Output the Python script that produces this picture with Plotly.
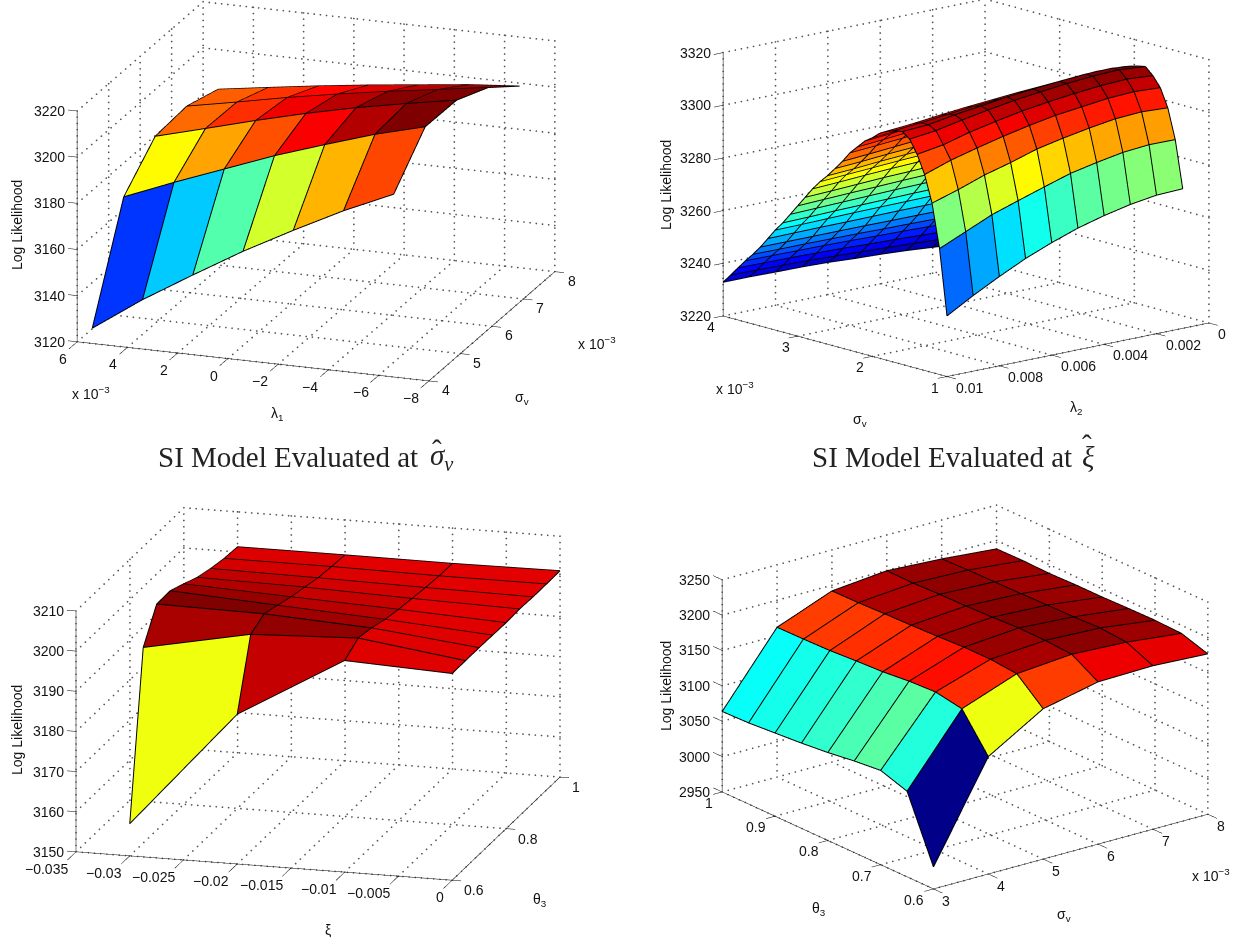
import numpy as np
import plotly.graph_objects as go

# ---------- data ----------
# Panel 1: rows = sigma_v (x 10^-3), columns = lambda_1 (x 10^-3)
p1_sigma = [4, 5, 6, 7, 8]
p1_lambda = [5.4, 3.4, 1.4, -0.6, -2.6, -4.6, -6.6]
p1_z = [
    [3126.6, 3141.4, 3154.5, 3167.2, 3178.7, 3189.6, 3199.2],
    [3171.7, 3180.4, 3188.6, 3196.8, 3204.0, 3210.9, 3216.6],
    [3186.1, 3191.9, 3197.8, 3203.3, 3208.2, 3212.4, 3216.3],
    [3187.3, 3191.5, 3195.9, 3199.8, 3203.4, 3206.6, 3209.9],
    [3182.8, 3186.0, 3189.1, 3191.9, 3194.4, 3196.9, 3198.7],
]
# Panel 2: rows = sigma_v (x 10^-3), columns = lambda_2
p2_sigma = [1.0, 1.1, 1.2, 1.3, 1.4, 1.5, 1.6, 1.7, 1.8, 1.9, 2.0, 2.1, 2.2, 2.3, 2.4, 2.5,
            2.6, 2.7, 2.8, 2.9, 3.0, 3.1, 3.2, 3.3, 3.4, 3.5, 3.6, 3.7, 3.8, 3.9, 4.0]
p2_lambda = [0.01, 0.009, 0.008, 0.007, 0.006, 0.005, 0.004, 0.003, 0.002, 0.001]
p2_z = [
    [3243.0, 3248.7, 3253.9, 3258.7, 3262.7, 3266.2, 3268.9, 3271.1, 3272.6, 3273.0],
    [3267.8, 3272.2, 3276.6, 3279.9, 3283.1, 3286.2, 3288.3, 3290.1, 3291.0, 3290.9],
    [3284.3, 3287.4, 3290.9, 3293.6, 3296.7, 3298.8, 3300.6, 3302.1, 3302.7, 3302.2],
    [3294.4, 3297.8, 3300.4, 3302.8, 3304.9, 3306.7, 3307.9, 3309.1, 3309.6, 3309.1],
    [3301.3, 3302.9, 3305.6, 3307.7, 3309.6, 3311.0, 3312.2, 3313.1, 3313.6, 3312.9],
    [3306.3, 3307.5, 3309.5, 3311.3, 3312.9, 3314.1, 3315.2, 3316.0, 3316.4, 3315.6],
    [3308.4, 3309.0, 3310.7, 3312.0, 3313.4, 3314.4, 3315.3, 3316.0, 3316.2, 3315.0],
    [3308.0, 3308.9, 3310.0, 3311.0, 3311.8, 3312.6, 3313.2, 3313.8, 3314.5, 3314.2],
    [3307.0, 3307.9, 3309.0, 3310.0, 3310.8, 3311.6, 3312.2, 3312.9, 3313.5, 3313.2],
    [3305.5, 3306.3, 3307.3, 3308.2, 3309.0, 3309.7, 3310.3, 3310.9, 3311.5, 3311.2],
    [3303.0, 3303.8, 3304.8, 3305.7, 3306.5, 3307.2, 3307.8, 3308.4, 3309.0, 3308.7],
    [3301.0, 3301.8, 3302.7, 3303.5, 3304.2, 3304.9, 3305.4, 3306.0, 3306.5, 3306.2],
    [3298.0, 3298.8, 3299.7, 3300.5, 3301.2, 3301.9, 3302.4, 3303.0, 3303.5, 3303.2],
    [3295.0, 3295.7, 3296.5, 3297.3, 3297.9, 3298.5, 3299.0, 3299.5, 3300.0, 3299.8],
    [3291.0, 3291.7, 3292.5, 3293.3, 3293.9, 3294.5, 3295.0, 3295.5, 3296.0, 3295.8],
    [3287.5, 3288.1, 3288.9, 3289.5, 3290.1, 3290.7, 3291.1, 3291.6, 3292.0, 3291.8],
    [3284.0, 3284.6, 3285.4, 3286.0, 3286.6, 3287.2, 3287.6, 3288.1, 3288.5, 3288.3],
    [3281.0, 3281.6, 3282.2, 3282.8, 3283.3, 3283.8, 3284.2, 3284.6, 3285.0, 3284.8],
    [3277.5, 3278.0, 3278.6, 3279.1, 3279.5, 3280.0, 3280.3, 3280.7, 3281.0, 3280.8],
    [3273.5, 3273.9, 3274.4, 3274.9, 3275.2, 3275.6, 3275.9, 3276.2, 3276.5, 3276.3],
    [3269.5, 3269.9, 3270.3, 3270.6, 3271.0, 3271.3, 3271.5, 3271.8, 3272.0, 3271.8],
    [3265.5, 3265.8, 3266.1, 3266.4, 3266.7, 3266.9, 3267.1, 3267.3, 3267.5, 3267.3],
    [3261.5, 3261.7, 3262.0, 3262.2, 3262.4, 3262.6, 3262.7, 3262.9, 3263.0, 3262.8],
    [3258.0, 3258.1, 3258.3, 3258.5, 3258.6, 3258.7, 3258.8, 3258.9, 3259.0, 3258.8],
    [3254.0, 3254.1, 3254.2, 3254.2, 3254.3, 3254.4, 3254.4, 3254.5, 3254.5, 3254.3],
    [3250.0, 3250.0, 3250.0, 3250.0, 3250.0, 3249.9, 3249.9, 3249.8, 3249.7, 3249.4],
    [3246.5, 3246.4, 3246.4, 3246.3, 3246.2, 3246.0, 3245.9, 3245.7, 3245.5, 3245.1],
    [3243.3, 3243.2, 3243.1, 3243.0, 3242.8, 3242.5, 3242.3, 3242.0, 3241.6, 3241.1],
    [3239.8, 3239.7, 3239.6, 3239.4, 3239.1, 3238.7, 3238.4, 3238.0, 3237.5, 3236.9],
    [3236.3, 3236.2, 3236.0, 3235.8, 3235.4, 3235.0, 3234.6, 3234.1, 3233.6, 3232.9],
    [3232.8, 3232.8, 3232.6, 3232.5, 3232.2, 3231.6, 3231.2, 3230.6, 3229.8, 3229.0],
]
# Panel 3: rows = xi, columns = theta_3
p3_xi = [-0.03, -0.02, -0.01, 0.0]
p3_theta = [0.6, 0.65, 0.7, 0.75, 0.8, 0.85, 0.9, 0.95, 1.0]
p3_z = [
    [3158.0, 3198.7, 3206.3, 3206.4, 3204.9, 3203.3, 3202.3, 3201.6, 3201.3],
    [3187.3, 3204.0, 3205.9, 3204.8, 3203.7, 3202.9, 3202.0, 3201.6, 3201.3],
    [3202.7, 3205.1, 3204.4, 3203.3, 3202.6, 3202.1, 3201.6, 3201.3, 3201.2],
    [3201.5, 3201.5, 3201.5, 3201.4, 3201.3, 3201.5, 3201.3, 3201.3, 3201.4],
]
# Panel 4: rows = sigma_v (x 10^-3), columns = theta_3
p4_sigma = [3, 4, 5, 6, 7, 8]
p4_theta = [1.0, 0.95, 0.9, 0.85, 0.8, 0.75, 0.7, 0.65, 0.6]
p4_z = [
    [3063.8, 3064.8, 3067.6, 3070.5, 3074.3, 3079.5, 3083.3, 3071.0, 2981.0],
    [3161.7, 3162.2, 3163.1, 3165.5, 3167.4, 3171.2, 3173.1, 3166.5, 3116.0],
    [3192.0, 3192.5, 3193.9, 3194.9, 3196.3, 3198.2, 3198.2, 3194.9, 3162.5],
    [3199.4, 3199.0, 3200.4, 3200.9, 3202.3, 3204.2, 3203.7, 3201.3, 3179.4],
    [3195.0, 3196.4, 3196.9, 3197.3, 3198.3, 3198.8, 3200.2, 3197.3, 3181.1],
    [3188.1, 3188.6, 3187.6, 3188.6, 3188.6, 3189.5, 3190.0, 3188.6, 3176.7],
]

# ---------- helpers ----------
W, H = 1234, 944
UNIT_PX = 208.0        # screen pixels per scene unit in a 420 px tall scene
EYE_DIST = 4.0
EDGE_LIFT = 0.006      # scene units towards the eye, keeps edges above the facets
DOM_H = 420
DOM_HALF_W = 268
PAD = 0.1
DOT_STEP = 6.0
JET_P = [0, .125, .375, .625, .875, 1]
JET_R = [0, 0, 0, 1, 1, .5]
JET_G = [0, 0, 1, 1, 0, 0]
JET_B = [.5, 1, 1, 0, 0, 0]


def jet(v):
    v = min(max(v, 0), 1)
    r, g, b = (np.interp(v, JET_P, c) for c in (JET_R, JET_G, JET_B))
    return f"rgb({int(r*255)},{int(g*255)},{int(b*255)})"


def segs(items):
    xs, ys, zs = [], [], []
    for a, b in items:
        xs += [a[0], b[0], None]
        ys += [a[1], b[1], None]
        zs += [a[2], b[2], None]
    return xs, ys, zs


def line_trace(scene, items, color, width):
    xs, ys, zs = segs(items)
    return go.Scatter3d(x=xs, y=ys, z=zs, mode="lines", line=dict(color=color, width=width), scene=scene,
                        hoverinfo="skip", showlegend=False)


def panel(fig, p):
    sc = p["scene"]
    X, Y, Z = p["gx"], p["gy"], p["gz"]
    (x0, x1), (y0, y1), (z0, z1) = p["xr"], p["yr"], p["zr"]
    dxr, dyr, dzr = x1 - x0, y1 - y0, z1 - z0
    nr, nc = len(Z), len(Z[0])
    phi, el = np.radians(p["phi"]), np.radians(p["el"])
    d = np.array([np.cos(el)*np.cos(phi), np.cos(el)*np.sin(phi), np.sin(el)])
    Rv = np.array([-np.sin(phi), np.cos(phi), 0.0])
    Uv = np.array([-np.sin(el)*np.cos(phi), -np.sin(el)*np.sin(phi), np.cos(el)])
    aspect = np.array(p["aspect"]) * p["s"] / UNIT_PX

    def screen_len(a, b):
        v = np.array([(b[0]-a[0])/dxr, (b[1]-a[1])/dyr, (b[2]-a[2])/dzr]) * aspect * UNIT_PX
        return float(np.hypot(v @ Rv, v @ Uv))

    # dotted grid on the floor and on the two back walls
    bx, by = p["back"]
    grid = []
    for t in p["xt"]:
        grid.append(((t, y0, z0), (t, y1, z0)))
        grid.append(((t, by, z0), (t, by, z1)))
    for t in p["yt"]:
        grid.append(((x0, t, z0), (x1, t, z0)))
        grid.append(((bx, t, z0), (bx, t, z1)))
    for t in p["zt"]:
        grid.append(((x0, by, t), (x1, by, t)))
        grid.append(((bx, y0, t), (bx, y1, t)))
    gxs, gys, gzs = [], [], []
    for a, b in grid:
        n = max(2, int(screen_len(a, b) / DOT_STEP))
        gxs += list(np.linspace(a[0], b[0], n))
        gys += list(np.linspace(a[1], b[1], n))
        gzs += list(np.linspace(a[2], b[2], n))
    fig.add_trace(go.Scatter3d(x=gxs, y=gys, z=gzs, mode="markers", scene=sc, hoverinfo="skip", showlegend=False,
                               marker=dict(size=1, color="#555555", line=dict(width=0))))
    # surface
    xs, ys, zs = [], [], []
    for r in range(nr):
        for c in range(nc):
            xs.append(X[r])
            ys.append(Y[c])
            zs.append(Z[r][c])
    I, J, Kk, cols = [], [], [], []
    dr, dc = p["corner"]
    lo, hi = p["clim"]
    for r in range(nr - 1):
        for c in range(nc - 1):
            a, b, e, f = r*nc+c, (r+1)*nc+c, (r+1)*nc+c+1, r*nc+c+1
            col = jet((Z[r+dr][c+dc] - lo) / (hi - lo))
            I += [a, a]; J += [b, e]; Kk += [e, f]; cols += [col, col]
    fig.add_trace(go.Mesh3d(x=xs, y=ys, z=zs, i=I, j=J, k=Kk, facecolor=cols, scene=sc,
                            flatshading=True, hoverinfo="skip", showscale=False,
                            lighting=dict(ambient=1, diffuse=0, specular=0, fresnel=0, roughness=1)))
    # surface edges, lifted a hair towards the eye
    edges = []
    lift = d * EDGE_LIFT / aspect * np.array([dxr, dyr, dzr])
    pt = lambda r, c: (xs[r*nc+c] + lift[0], ys[r*nc+c] + lift[1], zs[r*nc+c] + lift[2])
    for r in range(nr):
        for c in range(nc - 1):
            edges.append((pt(r, c), pt(r, c+1)))
    for c in range(nc):
        for r in range(nr - 1):
            edges.append((pt(r, c), pt(r+1, c)))
    fig.add_trace(line_trace(sc, edges, "black", 2))
    # axes
    ax_y, ax_x = p["axis_at"]          # y of x-axis line, x of y-axis line
    zx, zy = p["zcorner"]
    xdir, ydir, ztd = p["tickdir"]     # signed tick length, fraction of range
    axes = [((x0, ax_y, z0), (x1, ax_y, z0)), ((ax_x, y0, z0), (ax_x, y1, z0)),
            ((zx, zy, z0), (zx, zy, z1))]
    for t in p["xt"]:
        axes.append(((t, ax_y, z0), (t, ax_y + xdir*dyr, z0)))
    for t in p["yt"]:
        axes.append(((ax_x, t, z0), (ax_x + ydir*dxr, t, z0)))
    for t in p["zt"]:
        if p["ztick_axis"] == "y":
            axes.append(((zx, zy, t), (zx, zy + ztd*dyr, t)))
        else:
            axes.append(((zx, zy, t), (zx + ztd*dxr, zy, t)))
    fig.add_trace(line_trace(sc, axes, "black", 1))
    # tick labels
    font = dict(family="Liberation Sans", size=14, color="#111")
    ann = []
    xa, xsft, ysft = p["xlab"]
    for t, s in zip(p["xt"], p["xtt"]):
        ann.append(dict(x=t, y=ax_y, z=z0, text=s, showarrow=False, xanchor=xa, xshift=xsft, yshift=ysft, font=font))
    xa, xsft, ysft = p["ylab"]
    for t, s in zip(p["yt"], p["ytt"]):
        ann.append(dict(x=ax_x, y=t, z=z0, text=s, showarrow=False, xanchor=xa, xshift=xsft, yshift=ysft, font=font))
    for t in p["zt"]:
        ann.append(dict(x=zx, y=zy, z=t, text=str(t), showarrow=False, xanchor="right", xshift=-10, yshift=0, font=font))
    # camera
    cz = -p["shift"] / (UNIT_PX * np.cos(el))
    c = np.array([0, 0, cz])
    eye = c + d * EYE_DIST
    cx, cy = p["center"]
    pad = PAD
    top = cy - DOM_H/2 + p["shift"]
    layout = dict(
        domain=dict(x=[(cx-DOM_HALF_W)/W, (cx+DOM_HALF_W)/W], y=[1-(top+DOM_H)/H, 1-top/H]),
        aspectmode="manual",
        aspectratio=dict(x=aspect[0]*(1+2*pad), y=aspect[1]*(1+2*pad), z=aspect[2]*(1+2*pad)),
        camera=dict(projection=dict(type="orthographic"), up=dict(x=0, y=0, z=1),
                    center=dict(x=0, y=0, z=float(cz)),
                    eye=dict(x=float(eye[0]), y=float(eye[1]), z=float(eye[2]))),
        annotations=ann,
        bgcolor="white",
        xaxis=dict(visible=False, range=[x0-pad*dxr, x1+pad*dxr]),
        yaxis=dict(visible=False, range=[y0-pad*dyr, y1+pad*dyr]),
        zaxis=dict(visible=False, range=[z0-pad*dzr, z1+pad*dzr]),
    )
    fig.update_layout(**{sc: layout})


MINUS = "\u2212"
panels = [
    dict(scene="scene", gx=p1_sigma, gy=p1_lambda, gz=p1_z,
         xr=(4, 8), yr=(-8, 6), zr=(3120, 3220),
         xt=[4, 5, 6, 7, 8], xtt=["4", "5", "6", "7", "8"],
         yt=[-8, -6, -4, -2, 0, 2, 4, 6], ytt=[MINUS+"8", MINUS+"6", MINUS+"4", MINUS+"2", "0", "2", "4", "6"],
         zt=[3120, 3140, 3160, 3180, 3200, 3220],
         back=(8, 6), axis_at=(-8, 4), zcorner=(4, 6), ztick_axis="y",
         tickdir=(-0.026, -0.065, 0.026), corner=(0, 0), clim=(3109, 3209),
         xlab=("left", 11, -9), ylab=("right", -8, -17),
         phi=199.7, el=18.1, s=370, aspect=(1, 1.0, 0.65), center=(316, 191.5), shift=18.5),
    dict(scene="scene2", gx=p2_sigma, gy=p2_lambda, gz=p2_z,
         xr=(1, 4), yr=(0, 0.01), zr=(3220, 3320),
         xt=[1, 2, 3, 4], xtt=["1", "2", "3", "4"],
         yt=[0, 0.002, 0.004, 0.006, 0.008, 0.01], ytt=["0", "0.002", "0.004", "0.006", "0.008", "0.01"],
         zt=[3220, 3240, 3260, 3280, 3300, 3320],
         back=(4, 0), axis_at=(0.01, 1), zcorner=(4, 0.01), ztick_axis="y",
         tickdir=(0.035, -0.04, 0.035), corner=(0, 1), clim=(3229, 3315),
         xlab=("right", -6, -11), ylab=("left", 7, -11),
         phi=139, el=13.6, s=338, aspect=(1, 1.017, 0.794), center=(966, 188), shift=22),
    dict(scene="scene3", gx=p3_xi, gy=p3_theta, gz=p3_z,
         xr=(-0.035, 0), yr=(0.6, 1), zr=(3150, 3210),
         xt=[-0.035, -0.03, -0.025, -0.02, -0.015, -0.01, -0.005, 0],
         xtt=[MINUS+"0.035", MINUS+"0.03", MINUS+"0.025", MINUS+"0.02", MINUS+"0.015", MINUS+"0.01", MINUS+"0.005", "0"],
         yt=[0.6, 0.8, 1], ytt=["0.6", "0.8", "1"],
         zt=[3150, 3160, 3170, 3180, 3190, 3200, 3210],
         back=(-0.035, 1), axis_at=(0.6, 0), zcorner=(-0.035, 0.6), ztick_axis="x",
         tickdir=(-0.08, 0.024, -0.024), corner=(1, 0), clim=(3158, 3206),
         xlab=("right", -6, -17), ylab=("left", 10, -10),
         phi=-74.3, el=15.6, s=387, aspect=(1, 1.02, 0.64), center=(318, 694), shift=0),
    dict(scene="scene4", gx=p4_sigma, gy=p4_theta, gz=p4_z,
         xr=(3, 8), yr=(0.6, 1), zr=(2950, 3250),
         xt=[3, 4, 5, 6, 7, 8], xtt=["3", "4", "5", "6", "7", "8"],
         yt=[0.6, 0.7, 0.8, 0.9, 1], ytt=["0.6", "0.7", "0.8", "0.9", "1"],
         zt=[2950, 3000, 3050, 3100, 3150, 3200, 3250],
         back=(8, 1), axis_at=(0.6, 3), zcorner=(3, 1), ztick_axis="y",
         tickdir=(-0.043, -0.033, 0.043), corner=(0, 1), clim=(2979, 3204),
         xlab=("left", 7, -12), ylab=("right", -7, -11),
         phi=232.4, el=20.7, s=343, aspect=(1, 1.0, 0.655), center=(965, 697), shift=0),
]

fig = go.Figure()
for p in panels:
    panel(fig, p)

# ---------- paper-level texts ----------
SANS = dict(family="Liberation Sans", size=14, color="#111")
SERIF = dict(family="Liberation Serif", size=29, color="#222")
texts = [
    (17, 225, "Log Likelihood", -90, SANS, "center"), (666, 185, "Log Likelihood", -90, SANS, "center"),
    (17, 730, "Log Likelihood", -90, SANS, "center"), (666, 686, "Log Likelihood", -90, SANS, "center"),
    (277, 414, "λ<sub>1</sub>", 0, SANS, "center"), (522, 398, "σ<sub>v</sub>", 0, SANS, "center"),
    (860, 420, "σ<sub>v</sub>", 0, SANS, "center"), (1076, 408, "λ<sub>2</sub>", 0, SANS, "center"),
    (328, 930, "ξ", 0, SANS, "center"), (540, 900, "θ<sub>3</sub>", 0, SANS, "center"),
    (819, 909, "θ<sub>3</sub>", 0, SANS, "center"), (1064, 915, "σ<sub>v</sub>", 0, SANS, "center"),
    (91, 393, "x 10<sup>\u22123</sup>", 0, SANS, "center"), (597, 343, "x 10<sup>\u22123</sup>", 0, SANS, "center"),
    (735, 388, "x 10<sup>\u22123</sup>", 0, SANS, "center"), (1211, 875, "x 10<sup>\u22123</sup>", 0, SANS, "center"),
    (156, 457, "SI Model Evaluated at", 0, SERIF, "left"),
    (428, 457, "<i>σ<sub>v</sub></i>", 0, SERIF, "left"),
    (437, 450, "\u02c6", 0, SERIF, "center"),
    (810, 457, "SI Model Evaluated at", 0, SERIF, "left"),
    (1080, 457, "<i>ξ</i>", 0, SERIF, "left"),
    (1087, 445, "\u02c6", 0, SERIF, "center"),
]
fig.update_layout(
    width=W, height=H, autosize=False, margin=dict(l=0, r=0, t=0, b=0),
    paper_bgcolor="white", showlegend=False,
    annotations=[dict(x=x/W, y=1-y/H, xref="paper", yref="paper", text=t, textangle=a, font=f,
                      showarrow=False, xanchor=xa, yanchor="middle") for x, y, t, a, f, xa in texts],
)
fig.write_html("out.html", config=dict(displayModeBar=False),
               post_script="document.body.style.margin='0';document.body.style.overflow='hidden';")
